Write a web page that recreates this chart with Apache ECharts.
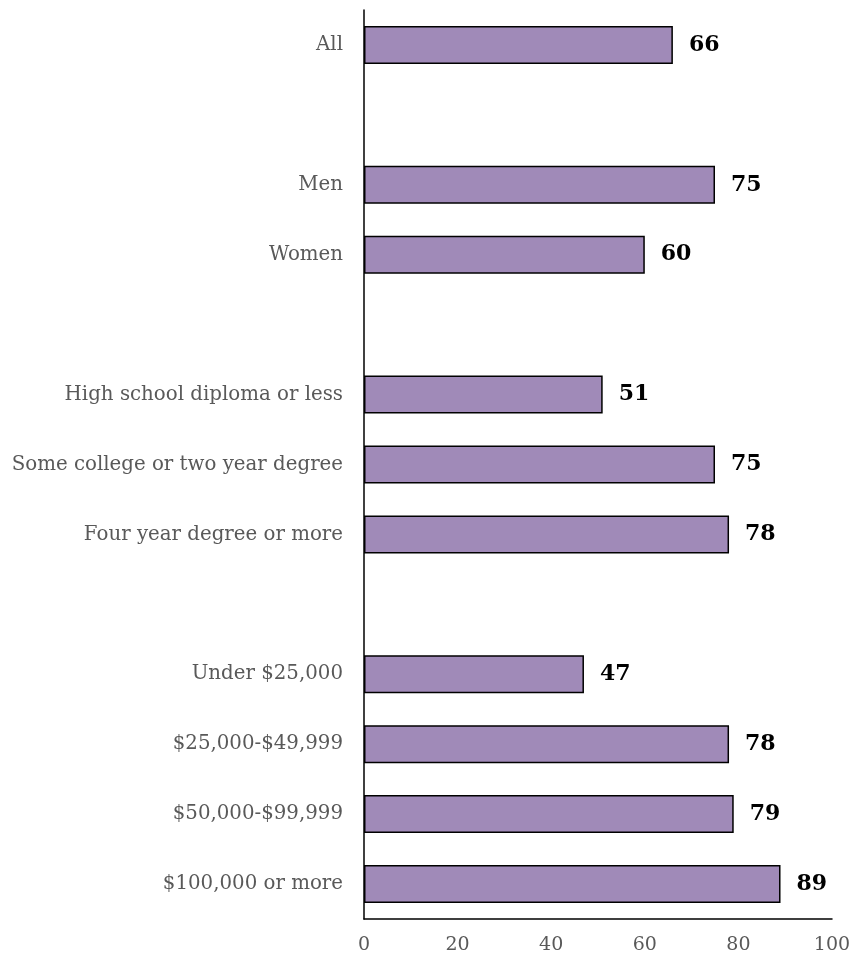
<!DOCTYPE html>
<html>
<head>
<meta charset="utf-8">
<script src="https://cdn.jsdelivr.net/npm/echarts@6/dist/echarts.min.js"></script>
<style>
  html, body { margin: 0; padding: 0; background: #ffffff; }
  #chart { width: 864px; height: 961px; }
</style>
</head>
<body>
<div id="chart"></div>
<script>
// categories, top to bottom; blank entries are the gaps between groups
var categories = [
  'All', '',
  'Men', 'Women', '',
  'High school diploma or less', 'Some college or two year degree', 'Four year degree or more', '',
  'Under $25,000', '$25,000-$49,999', '$50,000-$99,999', '$100,000 or more'
];
var values = [66, null, 75, 60, null, 51, 75, 78, null, 47, 78, 79, 89];
var xTicks = [0, 20, 40, 60, 80, 100];

var chart = echarts.init(document.getElementById('chart'));
var fontName = '"DejaVu Serif", serif';

var option = {
  animation: false,
  grid: {
    left: 364,
    right: 32,
    top: 10,
    bottom: 42,
    containLabel: false
  },
  xAxis: {
    type: 'value',
    min: xTicks[0],
    max: xTicks[xTicks.length - 1],
    interval: 20,
    splitLine: { show: false },
    axisTick: { show: false },
    axisLine: { show: true, lineStyle: { color: '#000000', width: 1.5 } },
    axisLabel: {
      color: '#595959',
      fontFamily: fontName,
      fontSize: 19,
      margin: 17
    }
  },
  yAxis: {
    type: 'category',
    data: categories,
    inverse: true,
    axisTick: { show: false },
    axisLine: { show: true, lineStyle: { color: '#000000', width: 1.5 } },
    axisLabel: {
      color: '#595959',
      fontFamily: fontName,
      fontSize: 19.8,
      margin: 21
    }
  },
  series: [{
    type: 'bar',
    data: values,
    barWidth: 38,
    itemStyle: {
      color: '#a08ab8',
      borderColor: '#000000',
      borderWidth: 1.5
    },
    label: {
      show: true,
      position: 'right',
      distance: 16,
      color: '#000000',
      fontFamily: fontName,
      fontWeight: 'bold',
      fontSize: 22
    }
  }]
};

chart.setOption(option);
window.addEventListener('resize', function () {
  chart.resize();
});
</script>
</body>
</html>
